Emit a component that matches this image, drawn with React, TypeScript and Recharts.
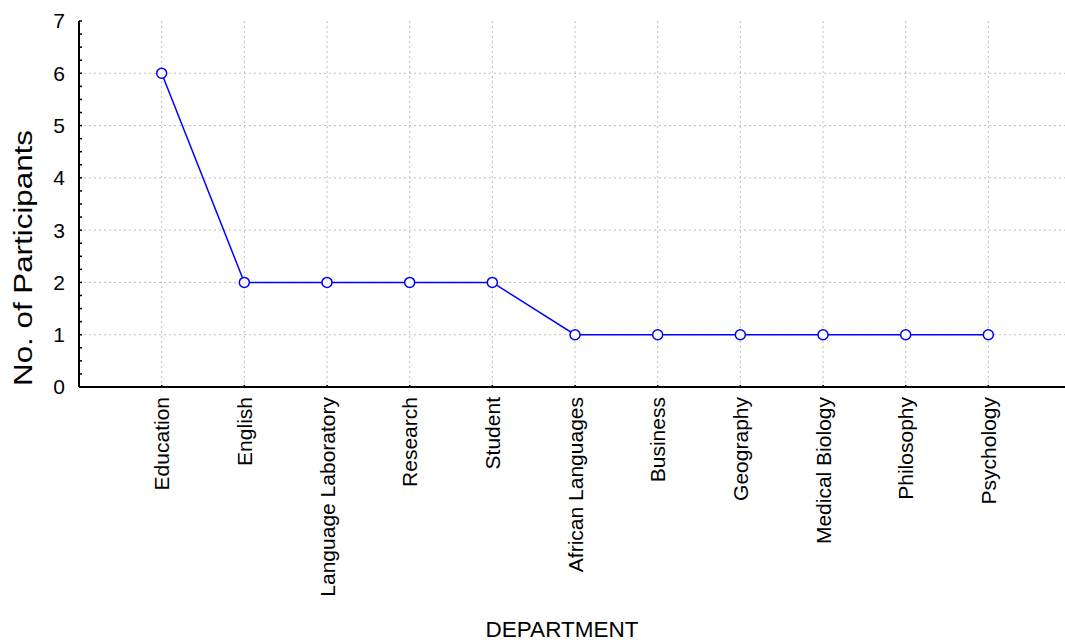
import React from 'react';
import { LineChart, Line, XAxis, YAxis, CartesianGrid, Label } from 'recharts';

const departments = [
  'Education',
  'English',
  'Language Laboratory',
  'Research',
  'Student',
  'African Languages',
  'Business',
  'Geography',
  'Medical Biology',
  'Philosophy',
  'Psychology',
];
const participants = [6, 2, 2, 2, 2, 1, 1, 1, 1, 1, 1];
const yMajorTicks = [0, 1, 2, 3, 4, 5, 6, 7];
const yMinorTicks = yMajorTicks.slice(0, -1).flatMap((v) => [v, v + 0.25, v + 0.5, v + 0.75]).concat([7]);
const yGridValues = [1, 2, 3, 4, 5, 6];
const xTitle = 'DEPARTMENT';
const yTitle = 'No. of Participants';

const data = departments.map((name, i) => ({ pos: i + 1, name, value: participants[i] }));
const xPositions = data.map((d) => d.pos);

const FONT = '"Liberation Sans", Arial, sans-serif';

const XTick = (props: any) => {
  const { x, y, payload } = props;
  const label = departments[payload.value - 1] ?? '';
  return (
    <text
      x={x}
      y={y}
      transform={`rotate(-90, ${x}, ${y})`}
      textAnchor="end"
      dy="0.36em"
      fontFamily={FONT}
      fontSize={21}
      fill="#000"
    >
      {label}
    </text>
  );
};

export default function App() {
  return (
    <div
      style={{
        position: 'fixed',
        left: 0,
        top: 0,
        width: 1065,
        height: 643,
        overflow: 'hidden',
        background: '#fff',
      }}
    >
      <LineChart
        width={1100}
        height={643}
        data={data}
        margin={{ top: 21, right: 29, bottom: 0, left: 0 }}
      >
        <CartesianGrid
          stroke="#bdbdbd"
          strokeDasharray="2 3"
          horizontalValues={yGridValues}
          verticalValues={xPositions}
        />
        <XAxis
          xAxisId="top"
          orientation="top"
          type="number"
          dataKey="pos"
          domain={[0, 12]}
          ticks={xPositions}
          height={0}
          tick={false}
          tickSize={-4}
          tickLine={{ stroke: '#000', strokeWidth: 1.5 }}
          axisLine={{ stroke: '#000', strokeWidth: 2 }}
        />
        <XAxis
          dataKey="pos"
          type="number"
          domain={[0, 12]}
          ticks={xPositions}
          interval={0}
          height={256}
          tickSize={-2}
          tickMargin={12}
          tick={<XTick />}
          tickLine={{ stroke: '#000', strokeWidth: 1.5 }}
          axisLine={{ stroke: '#000', strokeWidth: 2 }}
        >
          <Label
            content={() => (
              <text
                x={562}
                y={637}
                textAnchor="middle"
                fontFamily={FONT}
                fontSize={22.5}
                fill="#000"
              >
                {xTitle}
              </text>
            )}
          />
        </XAxis>
        <YAxis
          type="number"
          domain={[0, 7]}
          ticks={yMinorTicks}
          interval={0}
          width={79}
          tickSize={-3}
          tickMargin={17}
          tickFormatter={(v: number) => (Number.isInteger(v) ? String(v) : '')}
          tick={{ fontFamily: FONT, fontSize: 21, fill: '#000' }}
          tickLine={{ stroke: '#000', strokeWidth: 1.5 }}
          axisLine={{ stroke: '#000', strokeWidth: 2 }}
        >
          <Label
            content={() => (
              <text
                x={23}
                y={258}
                transform="rotate(-90, 23, 258)"
                textAnchor="middle"
                dominantBaseline="central"
                fontFamily={FONT}
                fontSize={25}
                textLength={256}
                lengthAdjust="spacingAndGlyphs"
                fill="#000"
              >
                {yTitle}
              </text>
            )}
          />
        </YAxis>
        <Line
          type="linear"
          dataKey="value"
          stroke="#0000ff"
          strokeWidth={1.5}
          dot={{ r: 5, fill: '#fff', stroke: '#0000ff', strokeWidth: 1.5 }}
          isAnimationActive={false}
        />
      </LineChart>
    </div>
  );
}
